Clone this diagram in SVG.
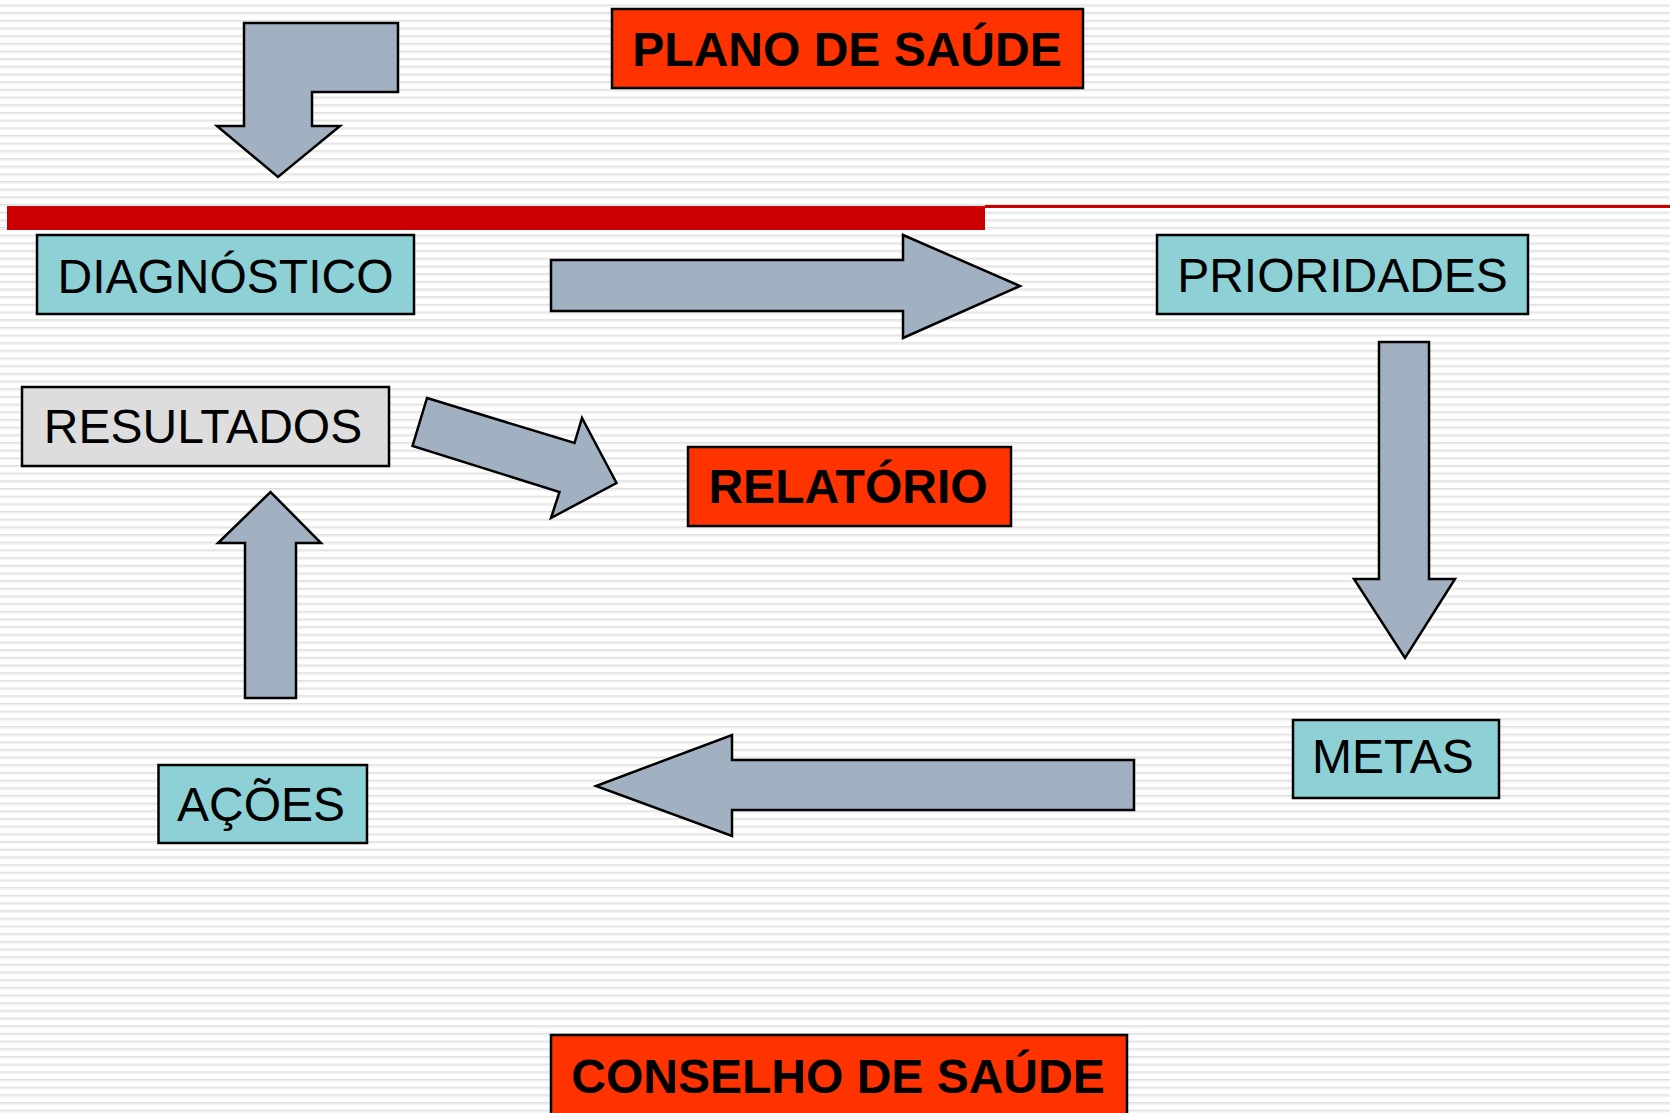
<svg xmlns="http://www.w3.org/2000/svg" width="1670" height="1113" viewBox="0 0 1670 1113">
  <defs>
    <pattern id="stripes" patternUnits="userSpaceOnUse" x="0" y="4.5" width="1670" height="7.675">
      <rect x="0" y="0" width="1670" height="1.4" fill="#dedede"/>
      <rect x="0" y="1.4" width="1670" height="1.1" fill="#ececec"/>
    </pattern>
    <style>
      .box { stroke: #000; stroke-width: 2.5; }
      .teal { fill: #8DD1D6; }
      .red { fill: #FF3300; }
      .gray { fill: #DDDDDD; }
      .arrow { fill: #A2B1C1; stroke: #000; stroke-width: 2.5; stroke-linejoin: miter; }
      .t { font-family: "Liberation Sans", Arial, sans-serif; font-size: 48px; fill: #000; text-anchor: middle; }
      .b { font-weight: bold; }
    </style>
  </defs>

  <rect x="0" y="0" width="1670" height="1113" fill="#ffffff"/>
  <rect x="0" y="0" width="1670" height="1113" fill="url(#stripes)"/>

  <!-- red header bar -->
  <rect x="7" y="206" width="978" height="24" fill="#CC0000"/>
  <rect x="985" y="205" width="685" height="3" fill="#CC0000"/>

  <g id="connectors">
    <polygon class="arrow" points="244,23 398,23 398,92 312,92 312,126 340,126 278,177 217,126 244,126"/>
    <polygon class="arrow" points="551,260 903,260 903,235 1020,286 903,338 903,311 551,311"/>
    <polygon class="arrow" points="1379,342 1429,342 1429,579 1455,579 1405,658 1354,579 1379,579"/>
    <polygon class="arrow" points="1134,760 1134,810 732,810 732,836 596,786 732,735 732,760"/>
    <polygon class="arrow" points="245,698 296,698 296,543 321,543 270.5,492 218,543 245,543"/>
    <polygon class="arrow" points="427,398 574.5,443 582,418 616.5,483 551,518 559.5,492 412.5,446"/>
  </g>

  <g id="plano">
    <rect class="box red" x="612" y="9" width="471" height="79"/>
    <text class="t b" x="847" y="66">PLANO DE SAÚDE</text>
  </g>
  <g id="diagnostico">
    <rect class="box teal" x="37" y="235" width="377" height="79"/>
    <text class="t" x="225.5" y="293">DIAGNÓSTICO</text>
  </g>
  <g id="prioridades">
    <rect class="box teal" x="1157" y="235" width="371" height="79"/>
    <text class="t" x="1342.5" y="292">PRIORIDADES</text>
  </g>
  <g id="resultados">
    <rect class="box gray" x="22" y="387" width="367" height="79"/>
    <text class="t" x="203" y="443">RESULTADOS</text>
  </g>
  <g id="relatorio">
    <rect class="box red" x="688" y="447" width="323" height="79"/>
    <text class="t b" x="848" y="503">RELATÓRIO</text>
  </g>
  <g id="metas">
    <rect class="box teal" x="1293" y="720" width="206" height="78"/>
    <text class="t" x="1393" y="773">METAS</text>
  </g>
  <g id="acoes">
    <rect class="box teal" x="158.5" y="765" width="208.5" height="78"/>
    <text class="t" x="261" y="821">AÇÕES</text>
  </g>
  <g id="conselho">
    <rect class="box red" x="551" y="1035" width="576" height="90"/>
    <text class="t b" x="838" y="1093">CONSELHO DE SAÚDE</text>
  </g>
</svg>
